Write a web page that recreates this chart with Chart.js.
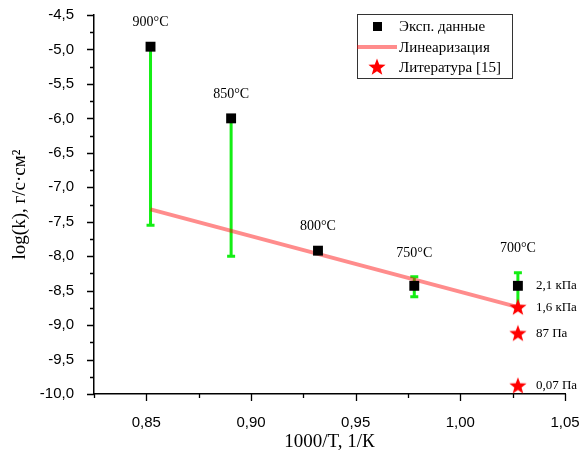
<!DOCTYPE html>
<html>
<head>
<meta charset="utf-8">
<script src="https://cdn.jsdelivr.net/npm/chart.js@4/dist/chart.umd.min.js"></script>
<style>
  body { margin: 0; background: #fff; }
  canvas { display: block; }
</style>
</head>
<body>
<canvas id="chart" width="580" height="454"></canvas>
<script>
// данные
const expX = [0.852, 0.8905, 0.932, 0.978, 1.0275];
const expY = [-4.96, -6.0, -7.92, -8.43, -8.43];
const errLow = [-7.55, -8.0, null, -8.59, -8.74];
const errHigh = [-4.96, -6.0, null, -8.30, -8.24];
const tempLabels = ["900°C", "850°C", "800°C", "750°C", "700°C"];

const linX = [0.852, 1.0275];
const linY = [-7.32, -8.74];

const litX = [1.0275, 1.0275, 1.0275];
const litY = [-8.74, -9.12, -9.88];

const pressY = [-8.43, -8.74, -9.12, -9.88];
const pressLabels = ["2,1 кПа", "1,6 кПа", "87 Па", "0,07 Па"];

const xTicks = [0.85, 0.90, 0.95, 1.00, 1.05];
const yTicks = [-10, -9.5, -9, -8.5, -8, -7.5, -7, -6.5, -6, -5.5, -5, -4.5];

const legendLabels = ["Эксп. данные", "Линеаризация", "Литература [15]"];

const serif = "'Liberation Serif', 'DejaVu Serif', serif";
const sans = "'Liberation Sans', Arial, sans-serif";
const lineColor = "rgba(255, 0, 0, 0.45)";
const errColor = "#14ee14";

// красная звезда для маркера
function makeStar(size) {
  const c = document.createElement("canvas");
  c.width = size;
  c.height = size;
  const g = c.getContext("2d");
  const cx = size / 2, cy = size / 2 + 0.5;
  const ro = size / 2, ri = ro * 0.42;
  g.beginPath();
  for (let i = 0; i < 10; i++) {
    const r = i % 2 === 0 ? ro : ri;
    const a = -Math.PI / 2 + (i * Math.PI) / 5;
    const px = cx + r * Math.cos(a), py = cy + r * Math.sin(a);
    if (i === 0) g.moveTo(px, py); else g.lineTo(px, py);
  }
  g.closePath();
  g.fillStyle = "#ff0000";
  g.fill();
  return c;
}
const star = makeStar(18);

const fmt = (v, d) => v.toFixed(d).replace(".", ",");

// планки погрешностей
const errorBars = {
  id: "errorBars",
  beforeDatasetsDraw(chart) {
    const { ctx, scales: { x, y } } = chart;
    ctx.save();
    ctx.strokeStyle = errColor;
    ctx.lineWidth = 3;
    expX.forEach((vx, i) => {
      if (errLow[i] === null) return;
      const px = x.getPixelForValue(vx);
      const y1 = y.getPixelForValue(errLow[i]);
      const y2 = y.getPixelForValue(errHigh[i]);
      ctx.beginPath();
      ctx.moveTo(px, y1);
      ctx.lineTo(px, y2);
      ctx.moveTo(px - 4, y1);
      ctx.lineTo(px + 4, y1);
      ctx.moveTo(px - 4, y2);
      ctx.lineTo(px + 4, y2);
      ctx.stroke();
    });
    ctx.restore();
  },
};

// основные и дополнительные деления осей, подписи и легенда
const decorations = {
  id: "decorations",
  afterDraw(chart) {
    const { ctx, scales: { x, y }, chartArea: a } = chart;
    ctx.save();
    ctx.strokeStyle = "#000";
    ctx.lineWidth = 1.3;
    ctx.beginPath();
    yTicks.forEach((v) => {
      const py = Math.round(y.getPixelForValue(v)) + 0.5;
      ctx.moveTo(a.left, py);
      ctx.lineTo(a.left - 7, py);
      if (v < -4.5) {
        const pm = Math.round(y.getPixelForValue(v + 0.25)) + 0.5;
        ctx.moveTo(a.left, pm);
        ctx.lineTo(a.left - 4, pm);
      }
    });
    xTicks.forEach((v) => {
      const px = Math.round(x.getPixelForValue(v)) + 0.5;
      ctx.moveTo(px, a.bottom);
      ctx.lineTo(px, a.bottom + 7);
      const pm = Math.round(x.getPixelForValue(v - 0.025)) + 0.5;
      ctx.moveTo(pm, a.bottom);
      ctx.lineTo(pm, a.bottom + 4);
    });
    ctx.stroke();

    // температуры
    ctx.fillStyle = "#000";
    ctx.font = "14px " + serif;
    ctx.textAlign = "center";
    ctx.textBaseline = "middle";
    expX.forEach((vx, i) => {
      const top = Math.max(expY[i], errHigh[i] === null ? expY[i] : errHigh[i]);
      ctx.fillText(tempLabels[i], x.getPixelForValue(vx), y.getPixelForValue(top) - 24);
    });

    // давления
    ctx.font = "13px " + serif;
    ctx.textAlign = "left";
    pressY.forEach((v, i) => {
      ctx.fillText(pressLabels[i], x.getPixelForValue(litX[0]) + 18, y.getPixelForValue(v));
    });

    // легенда
    ctx.strokeStyle = "#333";
    ctx.lineWidth = 1;
    ctx.strokeRect(357.5, 14.5, 155, 64);
    const rows = [26, 47, 67];
    ctx.fillStyle = "#000";
    ctx.fillRect(373, 22, 9, 9);
    ctx.strokeStyle = lineColor;
    ctx.lineWidth = 4;
    ctx.beginPath();
    ctx.moveTo(357, 47);
    ctx.lineTo(397, 47);
    ctx.stroke();
    ctx.drawImage(star, 368, 58);
    ctx.font = "15px " + serif;
    ctx.fillStyle = "#000";
    legendLabels.forEach((t, i) => ctx.fillText(t, 399, rows[i] + 1));
    ctx.restore();
  },
};

const ctx = document.getElementById("chart").getContext("2d");
new Chart(ctx, {
  type: "scatter",
  data: {
    datasets: [
      {
        label: legendLabels[0],
        data: expX.map((v, i) => ({ x: v, y: expY[i] })),
        pointStyle: "rect",
        pointRadius: 7,
        pointBackgroundColor: "#000",
        pointBorderWidth: 0,
        order: 0,
      },
      {
        label: legendLabels[2],
        data: litX.map((v, i) => ({ x: v, y: litY[i] })),
        pointStyle: star,
        order: 1,
      },
      {
        label: legendLabels[1],
        data: linX.map((v, i) => ({ x: v, y: linY[i] })),
        showLine: true,
        borderColor: lineColor,
        borderWidth: 4,
        pointRadius: 0,
        order: 2,
      },
    ],
  },
  options: {
    responsive: false,
    animation: false,
    layout: { padding: { left: 0, right: 15, top: 15, bottom: 0 } },
    plugins: {
      legend: { display: false },
      tooltip: { enabled: false },
    },
    scales: {
      x: {
        type: "linear",
        min: 0.825,
        max: 1.05,
        afterBuildTicks: (s) => { s.ticks = xTicks.map((v) => ({ value: v })); },
        afterFit: (s) => { s.height = 60; s.paddingLeft = 0; s.paddingRight = 0; },
        grid: { display: false },
        border: { display: true, color: "#000", width: 1.5 },
        ticks: {
          padding: 12,
          color: "#000",
          font: { family: sans, size: 15 },
          maxRotation: 0,
          callback: (v) => fmt(v, 2),
        },
        title: {
          display: true,
          text: "1000/T, 1/К",
          color: "#000",
          font: { family: serif, size: 19 },
          padding: { top: 0, bottom: 1 },
        },
      },
      y: {
        type: "linear",
        min: -10,
        max: -4.5,
        afterBuildTicks: (s) => { s.ticks = yTicks.map((v) => ({ value: v })); },
        afterFit: (s) => { s.width = 94; s.paddingTop = 0; s.paddingBottom = 0; },
        grid: { display: false },
        border: { display: true, color: "#000", width: 1.5 },
        ticks: {
          padding: 12,
          color: "#000",
          font: { family: sans, size: 15 },
          callback: (v) => fmt(v, 1),
        },
        title: {
          display: true,
          text: "log(k), г/с·см²",
          color: "#000",
          font: { family: serif, size: 19 },
          padding: { top: 9, bottom: 0 },
        },
      },
    },
  },
  plugins: [errorBars, decorations],
});
</script>
</body>
</html>
